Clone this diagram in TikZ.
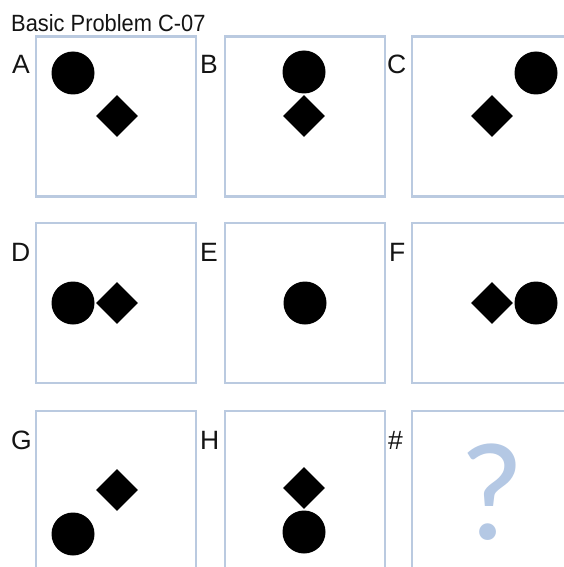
\documentclass[tikz,border=0pt]{standalone}
\usepackage{fontspec}
\setmainfont{Liberation Sans}
\newfontfamily\qfont{Carlito}
\newfontfamily\titlefont[FakeStretch=0.93]{Liberation Sans}
\usetikzlibrary{shapes.geometric}
\definecolor{boxblue}{RGB}{186,202,224}
\definecolor{qblue}{RGB}{180,200,228}
\definecolor{ink}{RGB}{20,20,20}
\begin{document}
\begin{tikzpicture}[x=1pt,y=-1pt,
  panel/.style={draw=boxblue,line width=2.5pt,minimum size=160pt,inner sep=0pt,fill=white},
  dot/.style={circle,fill=black,minimum size=43pt,inner sep=0pt},
  gem/.style={diamond,fill=black,minimum size=42pt,inner sep=0pt},
  lbl/.style={anchor=base west,inner sep=0pt,text=ink,font=\fontsize{26.5}{26.5}\selectfont}]
\useasboundingbox (0,0) rectangle (564,567);
\clip (0,0) rectangle (564,567);
\fill[white] (0,0) rectangle (564,567);
\node[anchor=base west,inner sep=0pt,text=ink,font=\titlefont\fontsize{23.5}{23.5}\selectfont] (title) at (11,32) {Basic Problem C-07};
% panels
\node[panel] (pA) at (116,116.5) {};
\node[panel] (pB) at (305,116.5) {};
\node[panel] (pC) at (492,116.5) {};
\node[panel] (pD) at (116,303) {};
\node[panel] (pE) at (305,303) {};
\node[panel] (pF) at (492,303) {};
\node[panel] (pG) at (116,491) {};
\node[panel] (pH) at (305,491) {};
\node[panel] (pQ) at (492,491) {};
% labels
\node[lbl] (lA) at (12,74) {A};
\node[lbl] (lB) at (200,74) {B};
\node[lbl] (lC) at (387,74) {C};
\node[lbl] (lD) at (11,261) {D};
\node[lbl] (lE) at (200,261) {E};
\node[lbl] (lF) at (389,261) {F};
\node[lbl] (lG) at (11,449) {G};
\node[lbl] (lH) at (200,449) {H};
\node[lbl] (lQ) at (388,449) {\#};
% A
\node[dot] (cA) at (73,73) {};
\node[gem] (dA) at (117,116) {};
% B
\node[dot] (cB) at (304,72) {};
\node[gem] (dB) at (304,116) {};
% C
\node[dot] (cC) at (536,73) {};
\node[gem] (dC) at (492,116) {};
% D
\node[dot] (cD) at (73,303) {};
\node[gem] (dD) at (117,303) {};
% E
\node[dot] (cE) at (305,303) {};
% F
\node[gem] (dF) at (492,303) {};
\node[dot] (cF) at (536,303) {};
% G
\node[gem] (dG) at (117,490) {};
\node[dot] (cG) at (73,534) {};
% H
\node[gem] (dH) at (304,488) {};
\node[dot] (cH) at (304,532) {};
% question mark
\node[inner sep=0pt,text=qblue,font=\qfont\fontsize{140}{140}\selectfont] (qm) at (492,492) {?};
\end{tikzpicture}
\end{document}
